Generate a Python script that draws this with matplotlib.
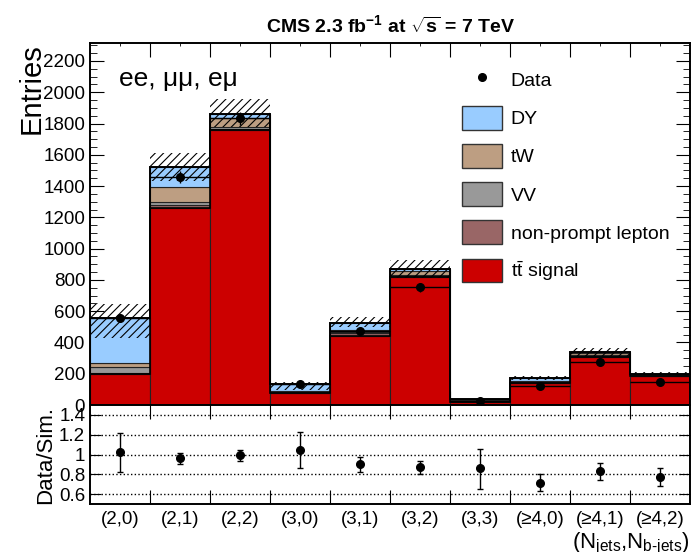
import numpy as np
import matplotlib
matplotlib.use('Agg')
import matplotlib.pyplot as plt
from matplotlib.patches import Patch
from matplotlib.lines import Line2D

plt.rcParams['font.family'] = ['Liberation Sans', 'DejaVu Sans']
plt.rcParams['mathtext.fontset'] = 'custom'
plt.rcParams['mathtext.rm'] = 'Liberation Sans'
plt.rcParams['mathtext.it'] = 'Liberation Sans:italic'
plt.rcParams['mathtext.bf'] = 'Liberation Sans:bold'
plt.rcParams['hatch.linewidth'] = 0.8

# bins (N_jets, N_b-jets)
categories = ['(2,0)', '(2,1)', '(2,2)', '(3,0)', '(3,1)', '(3,2)', '(3,3)',
              '(≥4,0)', '(≥4,1)', '(≥4,2)']

# stacked simulation, bottom to top
ttbar     = [198, 1257, 1758, 75, 441, 816, 21, 139, 309, 185]
nonprompt = [5, 21, 10, 5, 17, 10, 3, 4, 6, 3]
vv        = [40, 22, 11, 8, 10, 8, 5, 6, 6, 3]
tw        = [27, 92, 54, 4, 12, 20, 4, 4, 10, 4]
dy        = [284, 132, 27, 40, 46, 16, 3, 22, 6, 3]

# systematic band on total simulation
band_lo = [430, 1434, 1780, 96, 500, 813, 30, 160, 315, 190]
band_hi = [648, 1609, 1956, 149, 565, 927, 40, 187, 366, 209]

# data
data     = [555, 1460, 1833, 132, 475, 752, 28, 121, 277, 145]
data_err = [24, 38, 43, 11, 22, 27, 5, 11, 17, 12]

# data / simulation
ratio    = [1.03, 0.96, 0.99, 1.05, 0.90, 0.87, 0.86, 0.71, 0.83, 0.77]
ratio_lo = [0.82, 0.90, 0.93, 0.86, 0.82, 0.80, 0.65, 0.63, 0.74, 0.68]
ratio_hi = [1.22, 1.02, 1.05, 1.23, 0.97, 0.93, 1.06, 0.80, 0.91, 0.86]

colors = {'tt': '#cc0000', 'np': '#996666', 'vv': '#999999',
          'tw': '#bd9e82', 'dy': '#99ccff'}

x = np.arange(len(categories)) + 0.5

fig = plt.figure(figsize=(6.91, 5.52), dpi=100)
ax = fig.add_axes([90/691, 147/552, 600/691, 362/552])
axr = fig.add_axes([90/691, 48/552, 600/691, 99/552], sharex=ax)

# stack
bottom = np.zeros(len(categories))
layers = [(ttbar, 'tt'), (nonprompt, 'np'), (vv, 'vv'), (tw, 'tw'), (dy, 'dy')]
for vals, key in layers:
    ax.bar(x, vals, width=1.0, bottom=bottom, color=colors[key],
           edgecolor='#222222', linewidth=0.8, zorder=2)
    bottom = bottom + np.array(vals)

# outline of total
edges = np.arange(len(categories) + 1)
ax.stairs(bottom, edges, color='black', linewidth=1.4, zorder=3)
ax.stairs(ttbar, edges, color='black', linewidth=1.2, zorder=3)

# uncertainty band
lo = np.array(band_lo)
hi = np.array(band_hi)
ax.bar(x, hi - lo, width=1.0, bottom=lo, facecolor='none', edgecolor='black',
       hatch='////', linewidth=0, zorder=4)

# data
ax.errorbar(x, data, yerr=data_err, xerr=0.5, fmt='o', color='black',
            markersize=5.5, elinewidth=1.0, capsize=0, zorder=5)

ax.set_xlim(0, 10)
ax.set_ylim(0, 2315)
ax.set_yticks(np.arange(0, 2201, 200))
ax.set_yticks(np.arange(0, 2301, 50), minor=True)
ax.set_xticks(range(1, 10))
ax.tick_params(axis='both', which='both', direction='in', top=True, right=True,
               labelsize=13.5)
ax.tick_params(axis='y', which='major', length=10)
ax.tick_params(axis='y', which='minor', length=5)
ax.tick_params(axis='x', which='major', length=10)
ax.tick_params(axis='x', labelbottom=False)
for s in ax.spines.values():
    s.set_linewidth(1.4)

ax.set_ylabel('Entries', fontsize=21, loc='top')
ax.yaxis.set_label_coords(-0.074, 1.0)
ax.text(0.048, 0.90, 'ee, μμ, eμ', transform=ax.transAxes, fontsize=19,
        va='center', ha='left')

ax.set_title(r'CMS 2.3 fb$^{\mathbf{-1}}$ at $\sqrt{\mathbf{s}}$ = 7 TeV',
             fontsize=14, fontweight='bold', pad=8)

handles = [Line2D([], [], marker='o', color='black', linestyle='none', markersize=5.5),
           Patch(facecolor=colors['dy'], edgecolor='#333333'),
           Patch(facecolor=colors['tw'], edgecolor='#333333'),
           Patch(facecolor=colors['vv'], edgecolor='#333333'),
           Patch(facecolor=colors['np'], edgecolor='#333333'),
           Patch(facecolor=colors['tt'], edgecolor='#333333')]
labels = ['Data', 'DY', 'tW', 'VV', 'non-prompt lepton', r't$\bar{\mathrm{t}}$ signal']
fig.legend(handles, labels, loc='upper left', bbox_to_anchor=(462/691, 1 - 68/552),
           frameon=False, fontsize=14, handlelength=2.05, handleheight=1.5,
           labelspacing=0.74, handletextpad=0.45, borderpad=0, borderaxespad=0)

# ratio panel
r = np.array(ratio)
axr.errorbar(x, r, yerr=[r - np.array(ratio_lo), np.array(ratio_hi) - r],
             fmt='o', color='black', markersize=5.5, elinewidth=1.0, capsize=2)
axr.set_ylim(0.5, 1.5)
axr.set_yticks([0.6, 0.8, 1.0, 1.2, 1.4])
axr.set_yticklabels(['0.6', '0.8', '1', '1.2', '1.4'])
for yv in [0.6, 0.8, 1.0, 1.2, 1.4]:
    axr.axhline(yv, color='black', linestyle=':', linewidth=1.0, zorder=0)
axr.set_xticks(range(1, 10))
axr.set_xticks(x, minor=True)
axr.set_xticklabels(categories, minor=True)
axr.tick_params(axis='x', which='major', labelbottom=False, direction='in',
                top=True, length=10)
axr.tick_params(axis='x', which='minor', length=0, labelsize=13.5, pad=5)
axr.tick_params(axis='y', which='both', direction='in', right=True, labelsize=13.5,
                length=8)
for s in axr.spines.values():
    s.set_linewidth(1.4)
axr.set_ylabel('Data/Sim.', fontsize=16)
axr.yaxis.set_label_coords(-0.057, 0.5)
axr.text(1.0, -0.40, r'(N$_{\mathregular{jets}}$,N$_{\mathregular{b\text{-}jets}}$)',
         transform=axr.transAxes, fontsize=16, ha='right', va='center')

fig.savefig('out.png', dpi=100)
